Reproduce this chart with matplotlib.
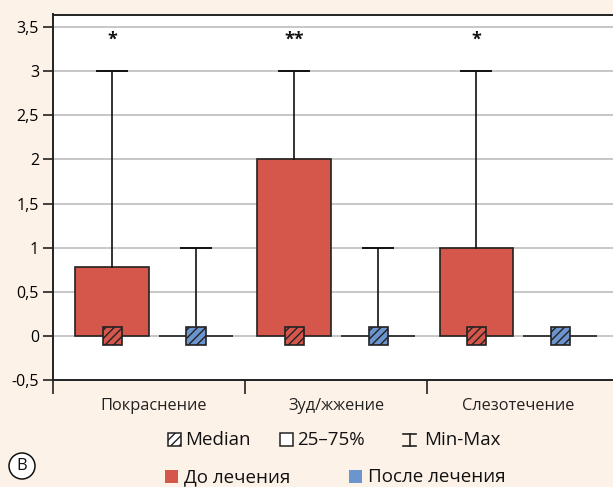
import matplotlib
matplotlib.use("Agg")
import matplotlib.pyplot as plt
from matplotlib.patches import Rectangle
from matplotlib.lines import Line2D

# categories and box statistics (min, q1, median, q3, max)
categories = ['Покраснение', 'Зуд/жжение', 'Слезотечение']
before_min = [0, 0, 0]
before_q1 = [0, 0, 0]
before_median = [0, 0, 0]
before_q3 = [0.78, 2, 1]
before_max = [3, 3, 3]
after_min = [0, 0, 0]
after_q1 = [0, 0, 0]
after_median = [0, 0, 0]
after_q3 = [0, 0, 0]
after_max = [1, 1, 0]
signif = ['*', '**', '*']
y_ticks = [-0.5, 0, 0.5, 1, 1.5, 2, 2.5, 3, 3.5]
y_labels = ['-0,5', '0', '0,5', '1', '1,5', '2', '2,5', '3', '3,5']

RED = '#d5574b'
BLUE = '#6c94cd'
BG = '#fdf2e8'

plt.rcParams['font.family'] = ['Open Sans', 'DejaVu Sans']
plt.rcParams['hatch.linewidth'] = 1.0

fig = plt.figure(figsize=(6.13, 4.87), dpi=100, facecolor=BG)
ax = fig.add_axes([53 / 613, 1 - 380 / 487, 1 - 53 / 613, (380 - 14.5) / 487])
ax.set_facecolor('white')
ax.set_xlim(-0.555, 2.52)
ax.set_ylim(-0.5, 3.642)

ax.set_yticks(y_ticks)
ax.set_yticklabels(y_labels, fontsize=11.5)
ax.yaxis.grid(True, color='#b8b8b8', linewidth=1.1, zorder=0)
ax.set_axisbelow(True)
ax.tick_params(axis='y', length=7, width=1.2, color='#222222', pad=3)

ax.set_xticks([-0.555, 0.5, 1.5])
ax.set_xticklabels([])
ax.tick_params(axis='x', length=10, width=1.2, color='#222222')
for i, c in enumerate(categories):
    ax.text(i, -0.79, c, ha='center', va='center', fontsize=11.8, color='#222222')

ax.spines['right'].set_visible(False)
for s in ['left', 'top', 'bottom']:
    ax.spines[s].set_linewidth(1.4)
    ax.spines[s].set_color('#222222')

off = 0.23
bw = 0.405
cap = 0.165
mw = 0.105
mh = 0.105


def draw_box(x, lo, q1, med, q3, hi, color):
    ax.add_patch(Rectangle((x - bw / 2, q1), bw, q3 - q1, facecolor=color,
                           edgecolor='#222222', linewidth=1.2, zorder=2))
    if hi > q3:
        ax.plot([x, x], [q3, hi], color='#111111', lw=1.2, zorder=3)
        ax.plot([x - cap / 2, x + cap / 2], [hi, hi], color='#111111', lw=1.4, zorder=3)
    if lo < q1:
        ax.plot([x, x], [lo, q1], color='#111111', lw=1.2, zorder=3)
        ax.plot([x - cap / 2, x + cap / 2], [lo, lo], color='#111111', lw=1.4, zorder=3)
    ax.add_patch(Rectangle((x - mw / 2, med - mh), mw, 2 * mh, facecolor=color,
                           edgecolor='#222222', linewidth=1.2, hatch='////', zorder=4))


for i in range(len(categories)):
    draw_box(i - off, before_min[i], before_q1[i], before_median[i],
             before_q3[i], before_max[i], RED)
    draw_box(i + off, after_min[i], after_q1[i], after_median[i],
             after_q3[i], after_max[i], BLUE)
    ax.text(i - off, 3.36, signif[i], ha='center', va='center',
            fontsize=13, fontweight='bold', color='#111111')

# legend drawn in pixel coordinates of the figure
lg = fig.add_axes([0, 0, 1, 1], facecolor='none')
lg.set_xlim(0, 613)
lg.set_ylim(487, 0)
lg.axis('off')

lg.add_patch(Rectangle((168, 433), 13, 13, facecolor='white', edgecolor='#222222',
                       linewidth=1.1, hatch='////'))
lg.text(185, 440, 'Median', va='center', fontsize=13.5, color='#111111')
lg.add_patch(Rectangle((280, 433), 13, 13, facecolor='white', edgecolor='#222222',
                       linewidth=1.1))
lg.text(297, 440, '25–75%', va='center', fontsize=13.5, color='#111111')
lg.add_line(Line2D([403, 416], [434, 434], color='#222222', lw=1.2))
lg.add_line(Line2D([403, 416], [446, 446], color='#222222', lw=1.2))
lg.add_line(Line2D([409.5, 409.5], [434, 446], color='#222222', lw=1.2))
lg.text(424, 440, 'Min-Max', va='center', fontsize=13.5, color='#111111')

lg.add_patch(Rectangle((165, 470), 13, 13, facecolor=RED, edgecolor='none'))
lg.text(184, 477, 'До лечения', va='center', fontsize=13.5, color='#111111')
lg.add_patch(Rectangle((349, 470), 13, 13, facecolor=BLUE, edgecolor='none'))
lg.text(368, 477, 'После лечения', va='center', fontsize=13.5, color='#111111')

lg.text(22, 466, 'B', ha='center', va='center', fontsize=12, color='#111111',
        bbox=dict(boxstyle='circle,pad=0.3', facecolor='white', edgecolor='#111111',
                  linewidth=1.1))

fig.savefig('out.png', dpi=100, facecolor=BG)
